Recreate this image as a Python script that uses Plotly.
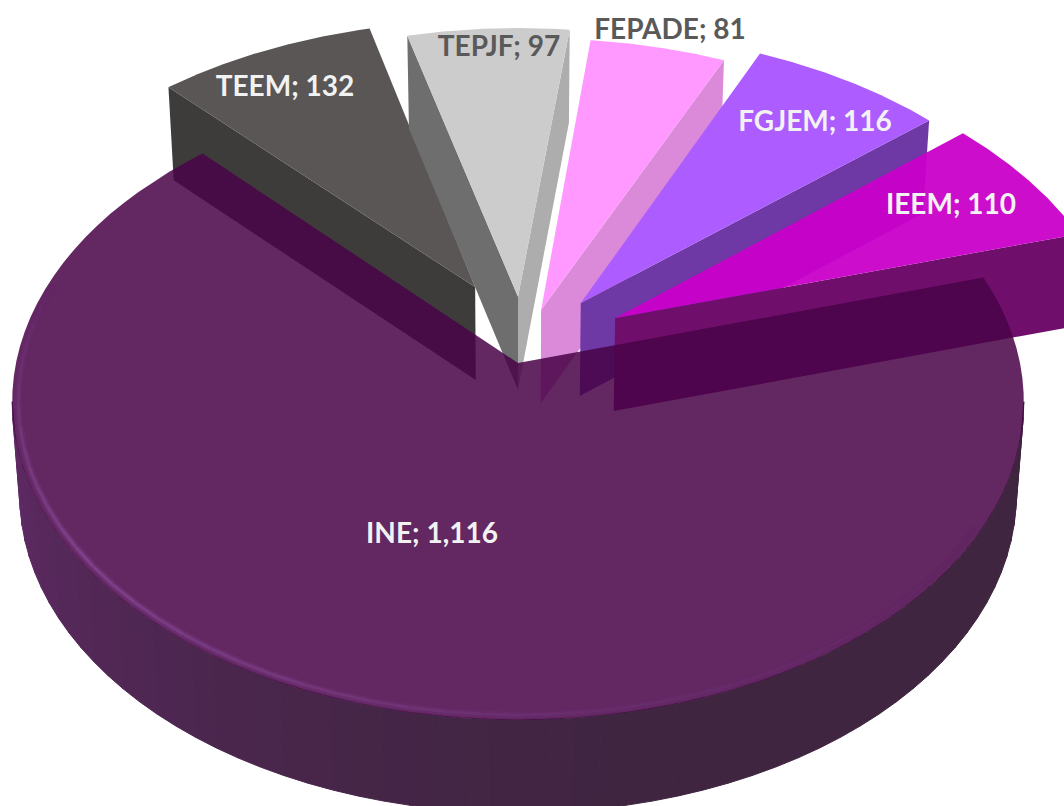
import numpy as np
import plotly.graph_objects as go

# ---- data ----
labels = ["TEEM", "TEPJF", "FEPADE", "FGJEM", "IEEM", "INE"]
values = [132, 97, 81, 116, 110, 1116]

# ---- styles ----
top_colors = ["#595655", "#cccccc", "#ff99ff", "#ad5cff", "rgba(201,0,201,0.95)", "rgba(73,3,72,0.86)"]
start_wall = ["#3d3c3b", "#6e6e6e", None, None, None, None]
end_wall = [None, "#adadad", "#da8ad8", "#6e38a5", "#6f0f6b", None]
text_colors = ["#f2f2f2", "#595959", "#595959", "#f2f2f2", "#f2f2f2", "#f2f2f2"]
label_px = [(285, 89), (499, 49), (670, 32), (815, 124), (951, 207), (432, 536)]
# explosion of each slice, in unit-disc coordinates (u right, v back)
explode = [(-0.088, 0.250), (0.0, 0.217), (0.047, 0.173), (0.128, 0.196), (0.197, 0.146), (0.0, 0.0)]
radii = [1.012, 1.015, 1.015, 1.02, 1.02, 1.0]

# ---- projection of the tilted disc ----
CX, CY, SX, SY, K, DEPTH, SHRINK = 518, 363, 502, 313, 0.1228, 93, 0.985
START = 316.8


def project(u, v, low=False):
    u, v = np.asarray(u, float), np.asarray(v, float)
    w = 1 + K * v
    x = SX * u / w
    y = -SY * v / w
    if low:
        return CX + x * SHRINK, CY + y + DEPTH
    return CX + x, CY + y


def arc(a0, a1, off=(0, 0), r=1.0, n=90):
    t = np.radians(np.linspace(a0, a1, n))
    return off[0] + r * np.sin(t), off[1] + r * np.cos(t)


def poly(fig, x, y, color, line=0):
    fig.add_trace(go.Scatter(
        x=list(x) + [x[0]], y=list(y) + [y[0]], mode="lines", fill="toself",
        fillcolor=color, line=dict(color=color, width=line), hoverinfo="skip"))


def mix(c0, c1, f):
    return "rgb(%d,%d,%d)" % tuple(a + (b - a) * f for a, b in zip(c0, c1))


fig = go.Figure()
sweeps = np.array(values) / sum(values) * 360
edges = START + np.concatenate([[0], np.cumsum(sweeps)])

for i in range(len(labels)):
    a0, a1 = edges[i], edges[i + 1]
    off, r = explode[i], radii[i]
    if labels[i] == "INE":
        # outer wall, shaded in bands
        bands = np.linspace(97, 263, 61)
        for j in range(60):
            ang = arc(bands[j], bands[j + 1], n=4)
            xt, yt = project(*ang)
            xb, yb = project(*ang, low=True)
            f = j / 59
            col = mix((63, 37, 64), (96, 42, 102), np.clip((f - 0.35) / 0.65, 0, 1) ** 1.6)
            poly(fig, np.r_[xt, xb[::-1]], np.r_[yt, yb[::-1]], col, 1)
    for wall, ang_deg in ((start_wall[i], a0), (end_wall[i], a1)):
        if wall:
            t = np.radians(ang_deg)
            uo, vo = off[0] + r * np.sin(t), off[1] + r * np.cos(t)
            ax, ay = project(off[0], off[1])
            ox, oy = project(uo, vo)
            bx, by = project(off[0], off[1], low=True)
            px, py = project(uo, vo, low=True)
            poly(fig, [float(ax), float(ox), float(px), float(bx)],
                 [float(ay), float(oy), float(py), float(by)], wall)
    au, av = arc(a0, a1, off, r)
    tx, ty = project(np.r_[off[0], au], np.r_[off[1], av])
    poly(fig, tx, ty, top_colors[i])

    if labels[i] == "INE":
        # soft highlight along the front rim of the top face
        knots = np.linspace(120, 285, 45)
        peak = np.interp(knots, [120, 170, 200, 232, 262, 285], [0.0, 0.25, 0.6, 1.0, 0.45, 0.0])
        for width, radius, gain in ((7, 0.988, 0.35), (3, 0.988, 0.85)):
            for j in range(44):
                rx, ry = project(*arc(knots[j], knots[j + 1], r=radius, n=4))
                fig.add_trace(go.Scatter(
                    x=rx, y=ry, mode="lines", hoverinfo="skip",
                    line=dict(width=width, color=mix((97, 38, 98), (132, 70, 144), gain * peak[j]))))

fig.add_trace(go.Scatter(
    x=[p[0] for p in label_px], y=[p[1] for p in label_px], mode="text",
    text=[f"<b>{l}; {v:,}</b>" for l, v in zip(labels, values)],
    textposition="middle center", hoverinfo="skip",
    textfont=dict(family="Lato", size=28, color=text_colors)))

fig.update_layout(
    width=1064, height=806, margin=dict(l=0, r=0, t=0, b=0), showlegend=False,
    paper_bgcolor="white", plot_bgcolor="white",
    xaxis=dict(range=[0, 1064], visible=False, fixedrange=True),
    yaxis=dict(range=[806, 0], visible=False, fixedrange=True))

fig.write_html("out.html", config={"displayModeBar": False},
               post_script="document.body.style.margin='0';document.body.style.overflow='hidden';")
